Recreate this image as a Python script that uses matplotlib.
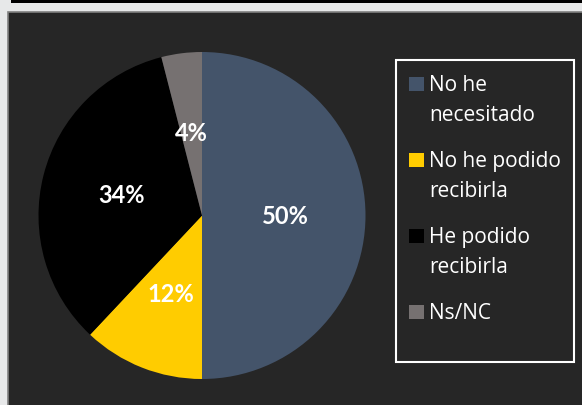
import matplotlib.pyplot as plt
from matplotlib.patches import Rectangle

labels = ["No he\nnecesitado", "No he podido\nrecibirla", "He podido\nrecibirla", "Ns/NC"]
values = [50, 12, 34, 4]
colors = ["#44546A", "#FFCC00", "#000000", "#767171"]

W, H = 582, 406
fig = plt.figure(figsize=(W / 100, H / 100), dpi=100)
fig.patch.set_facecolor("#E7E8E9")


def px(x, y):
    # pixel coords (from top-left) -> figure fraction
    return x / W, 1 - y / H


# dark panel with grey border, black strip at the top
fig.patches.append(Rectangle((8 / W, -0.01), 1, 1 - 13 / H + 0.01, transform=fig.transFigure,
                             facecolor="#262626", edgecolor="#808080", linewidth=1.2, zorder=-5))
fig.patches.append(Rectangle((11 / W, 1 - 4 / H), 1, 4 / H, transform=fig.transFigure,
                             facecolor="#000000", edgecolor="none", zorder=-5))

r = 163.5
cx, cy = 202, 216.5
ax = fig.add_axes([(cx - r) / W, 1 - (cy + r) / H, 2 * r / W, 2 * r / H])
ax.set_facecolor("none")

wedges, _, autotexts = ax.pie(values, colors=colors, startangle=90, counterclock=False,
                              autopct="%1.0f%%", pctdistance=0.51, radius=1,
                              wedgeprops=dict(linewidth=0))
for t in autotexts:
    t.set_color("white")
    t.set_fontsize(17)
    t.set_fontweight("bold")
    t.set_family("Lato")
ax.set_xlim(-1, 1)
ax.set_ylim(-1, 1)
ax.set_aspect("equal")
ax.axis("off")

# legend box drawn by hand to match the spacing
fig.patches.append(Rectangle(px(396, 363), 178 / W, 302 / H, transform=fig.transFigure,
                             facecolor="none", edgecolor="white", linewidth=1.5, zorder=2))
y0 = 91
for lab, col in zip(labels, colors):
    fig.patches.append(Rectangle(px(409, y0 + 1), 15 / W, 14 / H, transform=fig.transFigure,
                                 facecolor=col, edgecolor="none", zorder=3))
    for j, line in enumerate(lab.split("\n")):
        fig.text(*px(429, y0 + 30 * j), line, color="white", fontsize=15,
                 family="Open Sans", va="baseline", ha="left")
    y0 += 76

fig.savefig("out.png", dpi=100, facecolor=fig.get_facecolor())
